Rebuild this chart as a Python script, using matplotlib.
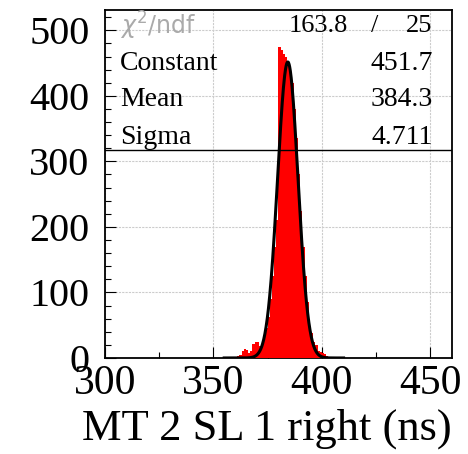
import numpy as np
import matplotlib
matplotlib.use("Agg")
import matplotlib.pyplot as plt
from matplotlib.ticker import MultipleLocator

# ---- data ----
bin_left = list(range(355, 405))
counts = [1, 0, 1, 1, 2, 2, 3, 4, 10, 14,
          12, 8, 10, 22, 25, 24, 18, 20, 32, 45,
          62, 90, 125, 170, 210, 474, 470, 464, 460, 452,
          445, 420, 380, 335, 280, 225, 170, 125, 85, 42,
          38, 25, 20, 10, 9, 8, 6, 3, 2, 1]
fit_constant = 451.7
fit_mean = 384.3
fit_sigma = 4.711
chi2 = "163.8"
ndf = "25"
x_ticks = [300, 350, 400, 450]
y_ticks = [0, 100, 200, 300, 400, 500]
xlabel = "MT 2 SL 1 right (ns)"

serif = "Liberation Serif"

fig = plt.figure(figsize=(4.68, 4.54), dpi=100)
ax = fig.add_axes([0.224, 0.2115, 0.742, 0.7665])

edges = np.array(bin_left + [bin_left[-1] + 1], dtype=float)
ax.stairs(counts, edges, fill=True, color="#ff0000", lw=0.5, zorder=3)

xf = np.linspace(355, 410, 400)
yf = fit_constant * np.exp(-0.5 * ((xf - fit_mean) / fit_sigma) ** 2)
ax.plot(xf, yf, color="black", lw=2.2, zorder=4)

ax.set_xlim(300, 460)
ax.set_ylim(0, 531)
ax.set_xticks(x_ticks)
ax.set_yticks(y_ticks)
ax.xaxis.set_minor_locator(MultipleLocator(25))
ax.yaxis.set_minor_locator(MultipleLocator(20))
ax.grid(True, color="#cccccc", lw=0.8, ls=(0, (2, 1)), zorder=0)
ax.tick_params(which="both", direction="in", top=False, right=False)
ax.tick_params(which="major", length=8, width=0.8)
ax.tick_params(which="minor", length=4, width=0.8)
ax.tick_params(axis="x", labelsize=30, pad=5)
ax.tick_params(axis="y", labelsize=29, pad=11)
for lab in ax.get_xticklabels() + ax.get_yticklabels():
    lab.set_fontfamily(serif)
for s in ax.spines.values():
    s.set_linewidth(1.3)

ax.set_xlabel(xlabel, fontfamily=serif, fontsize=32, loc="right", labelpad=4)

# stats box
ybox = 317.5
ax.axhline(ybox, color="black", lw=1.0, zorder=5)
ax.text(307, 507, r"$\chi^2$/ndf", fontsize=17, color="#aaaaaa",
        fontfamily="DejaVu Sans", va="center", ha="left", zorder=6)
ax.text(412, 507, chi2, fontsize=19, fontfamily=serif, va="center", ha="right", zorder=6)
ax.text(424.5, 507, "/", fontsize=19, fontfamily=serif, va="center", ha="center", zorder=6)
ax.text(451, 507, ndf, fontsize=19, fontfamily=serif, va="center", ha="right", zorder=6)
rows = [("Constant", "451.7"), ("Mean", "384.3"), ("Sigma", "4.711")]
yrows = [450, 394, 337]
for (k, v), yy in zip(rows, yrows):
    ax.text(307, yy, k, fontsize=20, fontfamily=serif, va="center", ha="left", zorder=6)
    ax.text(451, yy, v, fontsize=20, fontfamily=serif, va="center", ha="right", zorder=6)

fig.savefig("out.png", dpi=100)
